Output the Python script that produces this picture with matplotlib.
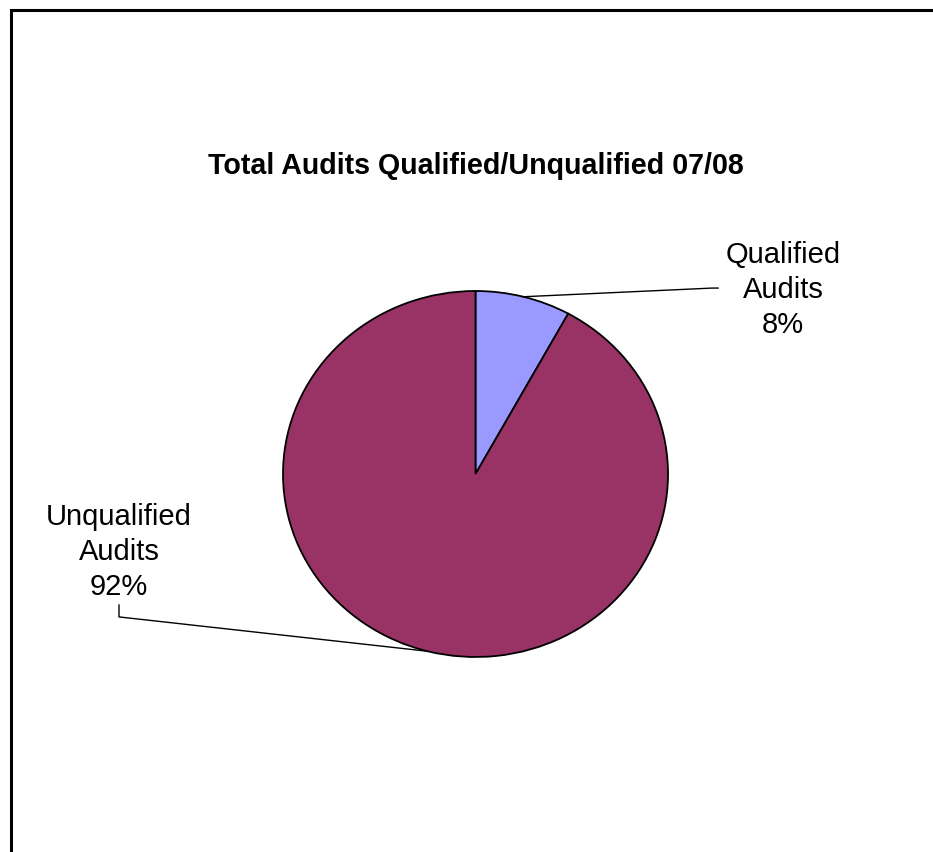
import numpy as np
import matplotlib.pyplot as plt
from matplotlib.patches import Rectangle

plt.rcParams['font.family'] = ['Liberation Sans', 'DejaVu Sans']

title = "Total Audits Qualified/Unqualified 07/08"
labels = ["Qualified\nAudits", "Unqualified\nAudits"]
values = [8, 92]
colors = ["#9999FF", "#993366"]

W, H = 933, 852
fig = plt.figure(figsize=(W / 100, H / 100), dpi=100)

# outer chart frame (cut off at right and bottom)
fig.patches.append(Rectangle((11 / W, -0.05), 1.0, 1 - 10 / H + 0.05,
                             transform=fig.transFigure, fill=False,
                             edgecolor="black", linewidth=2.2))

# pie area in pixels: x 283..668, y 291..657
ax = fig.add_axes([283 / W, 1 - 657 / H, 385 / W, 366 / H])
wedges, _ = ax.pie(values, colors=colors, startangle=90, counterclock=False,
                   wedgeprops=dict(edgecolor="black", linewidth=1.3))
ax.set_aspect("auto")
ax.set_xlim(-1, 1)
ax.set_ylim(-1, 1)
ax.axis("off")

total = sum(values)
pcts = [f"{round(v / total * 100)}%" for v in values]

# label positions and leader line bends (data coords of the pie axes)
text_pos = [(1.597, 1.005), (-1.852, -0.426)]
bends = [[(1.26, 1.016), (1.229, 1.016)],
         [(-1.852, -0.716), (-1.852, -0.781)]]

for w, lab, pct, tp, bend in zip(wedges, labels, pcts, text_pos, bends):
    mid = np.deg2rad((w.theta1 + w.theta2) / 2)
    ex, ey = np.cos(mid), np.sin(mid)
    ax.text(tp[0], tp[1], f"{lab}\n{pct}", ha="center", va="center",
            fontsize=21, linespacing=1.31, clip_on=False)
    xs = [p[0] for p in bend] + [ex]
    ys = [p[1] for p in bend] + [ey]
    ax.plot(xs, ys, color="black", linewidth=1.0, clip_on=False)

fig.text(476 / W, 1 - 166 / H, title, ha="center", va="center",
         fontsize=20.6, fontweight="bold")

fig.savefig("out.png", dpi=100, facecolor="white")
